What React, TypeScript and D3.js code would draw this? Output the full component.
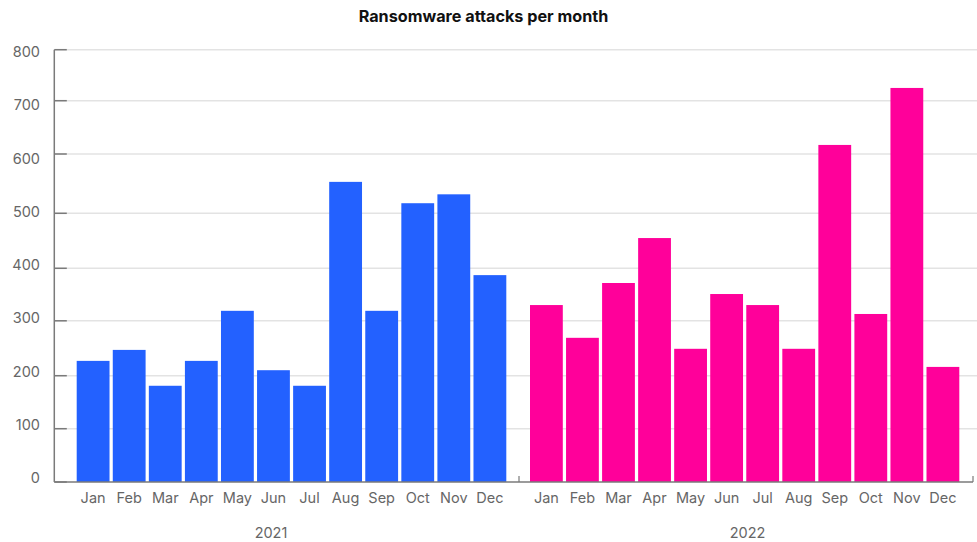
import React from "react";
import * as d3 from "d3";

const months = ["Jan", "Feb", "Mar", "Apr", "May", "Jun", "Jul", "Aug", "Sep", "Oct", "Nov", "Dec"];
const years = ["2021", "2022"];
const attacks2021 = [227, 247, 181, 227, 319, 210, 181, 553, 319, 517, 532, 387];
const attacks2022 = [330, 269, 372, 455, 249, 351, 330, 249, 617, 313, 725, 216];
const yTicks = [0, 100, 200, 300, 400, 500, 600, 700, 800];
const title = "Ransomware attacks per month";

const W = 977;
const H = 542;
const FONT = "Inter, 'Open Sans', sans-serif";
const COLORS = ["#2361ff", "#ff009a"];

// layout of the value axis (gridline pixel positions as drawn in the reference)
const yRange = [482, 428.7, 375.7, 320.8, 268.3, 213.3, 154, 100.7, 49.7];
const y = d3.scaleLinear().domain(yTicks).range(yRange);
const yLabel = d3.scaleLinear().domain([0, 800]).range([478, 52]);

const axisLeft = 54.3;
const axisRight = 973;
const groupDivider = 519;
const groupRanges: [number, number][] = [
  [76.7, 506.3],
  [530, 959.3],
];
const yearLabelX = [271, 747.5];

export default function App() {
  const series = [attacks2021, attacks2022];
  return (
    <svg width={W} height={H} style={{ position: "absolute", left: 0, top: 0, background: "#fff" }}>
      <text x={483.5} y={21.5} textAnchor="middle" fontFamily={FONT} fontWeight={700} fontSize={16.2} fill="#111">
        {title}
      </text>
      {yTicks.map((t) => (
        <g key={t}>
          {t > 0 && (
            <line x1={axisLeft} x2={W} y1={y(t)} y2={y(t)} stroke="#e3e3e3" strokeWidth={1.5} />
          )}
          <line x1={axisLeft} x2={axisLeft + 12.5} y1={y(t)} y2={y(t)} stroke="#7a7a7a" strokeWidth={1.5} />
          <text x={40} y={yLabel(t) + 5} textAnchor="end" fontFamily={FONT} fontSize={14.5} fill="#666">
            {t}
          </text>
        </g>
      ))}
      {years.map((yr, gi) => {
        const x = d3.scaleBand<string>().domain(months).range(groupRanges[gi]).paddingInner(0.09).paddingOuter(0);
        return (
          <g key={yr}>
            {months.map((m, i) => (
              <rect
                key={m}
                x={x(m)}
                y={y(series[gi][i])}
                width={x.bandwidth()}
                height={y(0) - y(series[gi][i])}
                fill={COLORS[gi]}
              />
            ))}
            {months.map((m) => (
              <text
                key={"l" + m}
                x={(x(m) as number) + x.bandwidth() / 2}
                y={503}
                textAnchor="middle"
                fontFamily={FONT}
                fontSize={14.5}
                fill="#666"
              >
                {m}
              </text>
            ))}
            <text x={yearLabelX[gi]} y={538} textAnchor="middle" fontFamily={FONT} fontSize={14.5} fill="#666">
              {yr}
            </text>
          </g>
        );
      })}
      <line x1={axisLeft} x2={axisLeft} y1={y(800)} y2={y(0)} stroke="#7a7a7a" strokeWidth={1.5} />
      <line x1={axisLeft} x2={axisRight} y1={y(0)} y2={y(0)} stroke="#7a7a7a" strokeWidth={1.5} />
      {[groupDivider, axisRight].map((gx) => (
        <line key={gx} x1={gx} x2={gx} y1={y(0) - 6} y2={y(0)} stroke="#7a7a7a" strokeWidth={1.2} />
      ))}
    </svg>
  );
}
